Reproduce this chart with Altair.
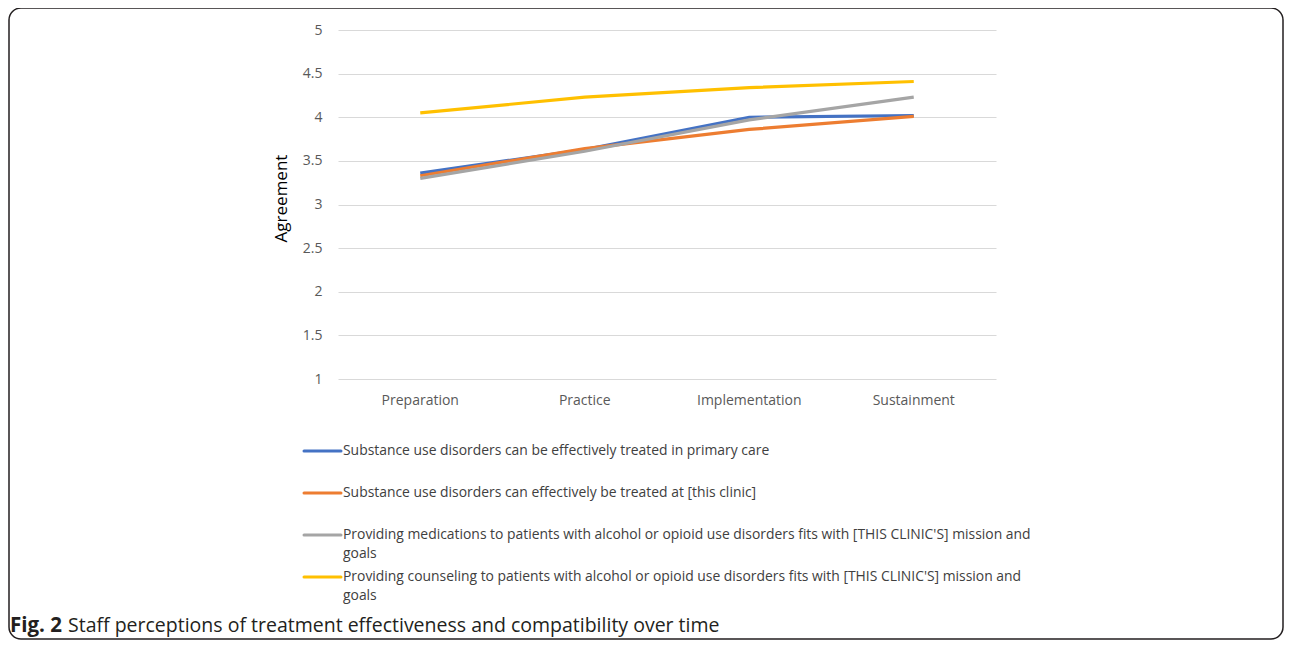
import altair as alt
import pandas as pd

stages = ["Preparation", "Practice", "Implementation", "Sustainment"]
series = [
    "Substance use disorders can be effectively treated in primary care",
    "Substance use disorders can effectively be treated at [this clinic]",
    "Providing medications to patients with alcohol or opioid use disorders fits with [THIS CLINIC'S] mission and goals",
    "Providing counseling to patients with alcohol or opioid use disorders fits with [THIS CLINIC'S] mission and goals",
]
legend_labels = [
    "Substance use disorders can be effectively treated in primary care",
    "Substance use disorders can effectively be treated at [this clinic]",
    "Providing medications to patients with alcohol or opioid use disorders fits with [THIS CLINIC'S] mission and\ngoals",
    "Providing counseling to patients with alcohol or opioid use disorders fits with [THIS CLINIC'S] mission and\ngoals",
]
primary_care = [3.36, 3.63, 4.00, 4.02]
this_clinic = [3.33, 3.64, 3.86, 4.01]
medications = [3.30, 3.61, 3.97, 4.23]
counseling = [4.05, 4.23, 4.34, 4.41]
colors = ["#4472C4", "#ED7D31", "#A5A5A5", "#FFC000"]
y_ticks = [1, 1.5, 2, 2.5, 3, 3.5, 4, 4.5, 5]
caption_bold = "Fig. 2"
caption_text = "Staff perceptions of treatment effectiveness and compatibility over time"

rows = []
for name, vals in zip(series, [primary_care, this_clinic, medications, counseling]):
    for s, v in zip(stages, vals):
        rows.append({"series": name, "stage": s, "value": v})
df = pd.DataFrame(rows)
leg = pd.DataFrame({"series": series, "label": legend_labels})

FONT = "Open Sans"
color_scale = alt.Scale(domain=series, range=colors)

lines = alt.Chart(df).mark_line(strokeWidth=3.2).encode(
    x=alt.X("stage:N", sort=stages, bandPosition=0.5,
            scale=alt.Scale(type="band", domain=stages, range=[329, 987], paddingInner=0, paddingOuter=0),
            axis=alt.Axis(title=None, domain=False, ticks=False, grid=False, offset=-260,
                          labelPadding=14, labelFontSize=14, labelColor="#595959", labelFont=FONT,
                          labelAngle=0)),
    y=alt.Y("value:Q",
            scale=alt.Scale(domain=[1, 5], range=[371, 22], nice=False, zero=False),
            axis=alt.Axis(title="Agreement", values=y_ticks, format="~g", domain=False, ticks=False,
                          grid=True, gridColor="#D9D9D9", gridWidth=1, offset=-329, labelPadding=16,
                          labelFontSize=14, labelColor="#595959", labelFont=FONT,
                          titleFont=FONT, titleFontSize=17, titleFontWeight="normal",
                          titleColor="#000000", titlePadding=12, titleY=190)),
    color=alt.Color("series:N", scale=color_scale, legend=None),
    order=alt.Order("stage_idx:Q"),
).transform_calculate(
    stage_idx="indexof(%s, datum.stage)" % str(stages)
)

leg_y = alt.Y("series:N", sort=series, axis=None,
              scale=alt.Scale(type="point", domain=series, range=[443, 569], padding=0))

leg_rules = alt.Chart(leg).mark_rule(strokeWidth=3, strokeCap="round").encode(
    x=alt.value(295), x2=alt.value(332), y=leg_y,
    color=alt.Color("series:N", scale=color_scale, legend=None),
)
leg_text = alt.Chart(leg).mark_text(
    align="left", baseline="alphabetic", dy=4, lineBreak="\n", lineHeight=18.5,
    fontSize=13.9, font=FONT, color="#404040"
).encode(
    x=alt.value(334), y=leg_y, text="label:N"
)

cap = pd.DataFrame({"bold": [caption_bold], "text": [caption_text]})
cap_bold = alt.Chart(cap).mark_text(
    align="left", baseline="alphabetic", fontSize=20.5, font=FONT, fontWeight="bold", color="#231F20"
).encode(x=alt.value(1), y=alt.value(624), text="bold:N")
cap_text = alt.Chart(cap).mark_text(
    align="left", baseline="alphabetic", fontSize=19.5, font=FONT, color="#231F20"
).encode(x=alt.value(59), y=alt.value(624), text="text:N")

chart = alt.layer(lines, leg_rules, leg_text, cap_bold, cap_text).resolve_scale(
    y="independent"
).properties(
    width=1274, height=631,
    autosize=alt.AutoSizeParams(type="none"),
    padding={"left": 1, "right": 1, "top": 0, "bottom": 1},
).configure_view(
    stroke="#231F20", strokeWidth=1.5, cornerRadius=12
)

chart.save("out.html", embed_options={"renderer": "svg", "actions": False})
